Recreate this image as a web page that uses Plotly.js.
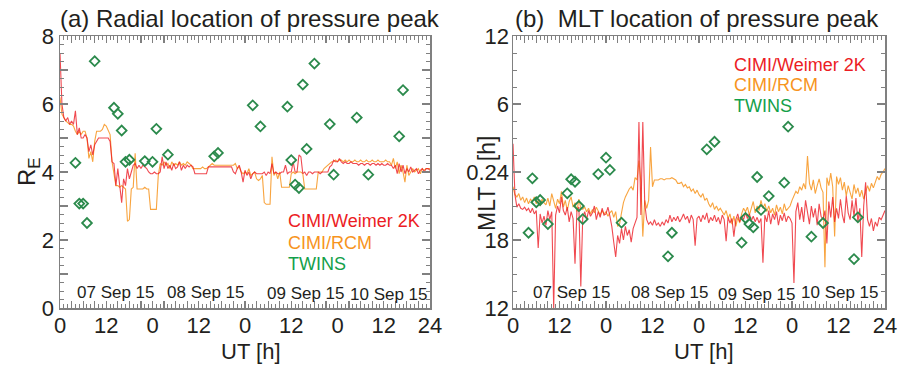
<!DOCTYPE html>
<html>
<head>
<meta charset="utf-8">
<script src="https://cdn.plot.ly/plotly-3.0.1.min.js"></script>
<style>
  html, body { margin: 0; padding: 0; background: #fff; }
  #chart { width: 898px; height: 366px; }
</style>
</head>
<body>
<div id="chart"></div>
<script>
// ---- sampling grid (UT hours since 00 UT 07 Sep 2015, every 0.5 h) ----
const T_START = 0, T_STEP = 0.5, T_COUNT = 193;

// ---- (a) radial location of pressure peak [R_E] ----
const leftWeimer = [
  7.5, 6.0, 5.6, 5.5, 5.6, 5.4, 5.5, 5.4, 5.8, 5.1, 5.3, 5.0, 5.0, 5.1, 5.0, 4.6, 4.8, 4.5, 4.8, 4.9, 5.0, 5.0, 5.0, 5.0,
  5.0, 5.0, 4.9, 4.3, 4.25, 3.6, 4.1, 3.5, 3.1, 3.8, 3.6, 4.1, 3.8, 4.0, 4.2, 4.25, 4.1, 4.2, 4.1, 4.2, 4.15, 4.1, 4.0, 3.95,
  3.95, 4.0, 3.95, 3.95, 4.0, 4.45, 4.1, 4.3, 4.1, 4.2, 4.05, 4.25, 4.1, 4.15, 4.3, 4.05, 4.2, 4.1, 4.2, 4.15, 4.2, 4.15, 3.95, 3.95,
  3.95, 3.95, 3.95, 3.95, 3.95, 4.15, 4.15, 4.15, 4.15, 4.15, 4.15, 4.15, 4.15, 4.15, 4.15, 4.15, 4.15, 4.15, 4.0, 3.95, 4.1, 4.2, 4.0, 3.7,
  4.05, 3.9, 4.0, 3.8, 3.95, 4.0, 3.95, 3.95, 3.95, 3.95, 4.0, 3.9, 4.0, 3.95, 4.25, 3.95, 4.0, 3.95, 3.95, 4.0, 4.0, 4.2, 3.95, 4.0,
  4.0, 4.3, 4.0, 4.0, 4.5, 4.45, 3.95, 4.0, 3.9, 4.0, 4.0, 3.95, 4.0, 4.0, 4.0, 3.95, 4.0, 4.0, 4.0, 4.0, 4.15, 4.2, 4.35, 4.3,
  4.3, 4.4, 4.3, 4.25, 4.3, 4.25, 4.25, 4.3, 4.25, 4.25, 4.25, 4.2, 4.25, 4.25, 4.2, 4.25, 4.25, 4.2, 4.25, 4.25, 4.2, 4.25, 4.2, 4.25,
  4.2, 4.2, 4.25, 4.2, 4.2, 4.1, 4.2, 3.95, 4.25, 4.0, 4.2, 3.95, 4.1, 4.0, 4.15, 4.0, 4.05, 4.1, 3.95, 4.05, 4.1, 4.0, 4.1, 4.1,
  4.05
];
const leftRCM = [
  6.2, 5.7, 5.6, 5.5, 5.45, 5.4, 5.4, 5.35, 5.2, 5.1, 5.2, 5.1, 5.2, 5.2, 5.0, 4.4, 4.6, 4.3, 4.9, 5.2, 5.2, 5.2, 5.25, 5.4,
  5.35, 5.2, 5.1, 4.3, 4.0, 3.6, 3.6, 3.55, 3.6, 3.55, 3.5, 2.55, 2.6, 3.5, 3.55, 4.55, 3.5, 3.5, 3.5, 3.5, 3.55, 3.5, 3.5, 2.9,
  2.9, 2.9, 2.9, 3.9, 4.25, 4.2, 4.3, 4.2, 4.25, 4.1, 4.3, 4.2, 4.25, 4.2, 4.3, 4.2, 4.25, 4.2, 4.3, 4.25, 4.2, 4.1, 4.1, 4.1,
  4.1, 4.1, 4.15, 4.1, 4.1, 4.15, 4.2, 4.25, 4.2, 4.2, 4.2, 4.2, 4.2, 4.2, 4.2, 4.2, 4.2, 4.2, 4.2, 4.25, 4.1, 4.15, 4.0, 3.95,
  4.0, 3.95, 4.1, 3.9, 3.95, 4.0, 3.8, 3.75, 3.8, 3.9, 3.1, 3.05, 3.05, 3.05, 4.45, 3.9, 4.0, 3.8, 4.0, 3.55, 3.55, 3.55, 3.55, 3.55,
  3.95, 4.0, 3.95, 4.0, 4.0, 4.0, 3.95, 3.5, 3.5, 3.5, 3.5, 3.5, 3.5, 3.5, 4.0, 4.0, 4.0, 4.1, 4.15, 4.2, 4.25, 4.3, 4.3, 4.35,
  4.3, 4.35, 4.35, 4.3, 4.35, 4.3, 4.35, 4.3, 4.3, 4.35, 4.3, 4.3, 4.35, 4.3, 4.3, 4.35, 4.3, 4.3, 4.35, 4.3, 4.3, 4.35, 4.3, 4.3,
  4.3, 4.35, 4.3, 4.3, 4.2, 4.4, 4.1, 4.3, 3.95, 4.2, 4.0, 3.7, 4.2, 3.9, 4.0, 4.1, 4.0, 4.05, 4.1, 3.95, 4.1, 4.05, 4.1, 4.1,
  4.1
];

// ---- (b) MLT location of pressure peak [h], unwrapped: 24 = midnight, 30 = 06 MLT ----
const rightWeimer = [
  26.5, 22.0, 20.9, 21.2, 20.8, 20.7, 20.9, 20.6, 20.8, 20.4, 20.8, 20.3, 20.6, 17.3, 20.3, 19.5, 20.1, 19.3, 20.6, 19.8, 20.5, 12.0, 20.2, 21.0,
  20.4, 21.8, 20.6, 20.2, 20.9, 19.6, 20.5, 19.9, 15.9, 20.6, 20.9, 13.9, 20.0, 20.5, 19.8, 20.6, 20.1, 20.4, 21.0, 19.8, 20.5, 20.0, 20.8, 20.2,
  20.3, 20.9, 20.1, 19.2, 17.8, 16.5, 18.4, 17.7, 19.0, 18.0, 19.2, 18.4, 18.9, 17.8, 19.0, 19.5, 20.0, 28.4, 20.2, 28.4, 21.2, 19.8, 19.4, 19.6,
  19.3, 19.8, 19.3, 19.5, 19.2, 19.6, 19.3, 19.8, 19.5, 20.2, 19.6, 20.0, 19.7, 20.1, 19.6, 19.9, 20.3, 19.8, 20.1, 19.5, 20.2, 19.8, 17.5, 19.9,
  20.1, 19.6, 20.2, 19.8, 20.4, 19.5, 20.0, 19.7, 20.2, 19.6, 20.0, 19.4, 20.2, 19.8, 17.9, 20.0, 19.5, 19.9, 18.3, 19.8, 20.3, 19.6, 20.1, 19.8,
  20.4, 19.9, 20.3, 19.7, 20.1, 19.6, 20.0, 19.5, 19.9, 16.0, 20.2, 19.6, 20.6, 19.4, 20.3, 19.8, 20.5, 19.3, 20.2, 19.7, 20.4, 19.6, 20.1, 19.9,
  19.5, 14.2, 20.5, 21.3, 19.8, 20.9, 19.6, 21.5, 20.2, 19.4, 21.0, 20.0, 20.8, 19.3, 21.2, 20.1, 19.8, 20.6, 17.7, 21.4, 20.0, 21.8, 19.6, 20.8,
  19.9, 21.6, 20.2, 19.5, 21.9, 20.4, 19.8, 21.5, 20.1, 21.7, 19.6, 20.8, 16.5, 21.0, 23.1, 19.8, 19.2, 19.9, 18.8, 19.6, 19.2, 20.0, 19.8, 20.3,
  20.6
];
const rightRCM = [
  22.7, 22.0, 21.8, 22.1, 21.5, 21.8, 21.3, 21.7, 21.2, 21.6, 21.4, 21.8, 21.2, 21.5, 21.0, 21.6, 21.3, 21.1, 21.7, 21.0, 22.1, 21.4, 20.8, 21.6,
  21.2, 22.3, 20.9, 21.5, 20.6, 21.4, 21.8, 20.9, 21.3, 20.5, 21.6, 20.8, 20.7, 20.9, 20.5, 20.8, 20.3, 20.7, 20.4, 20.9, 20.6, 20.2, 20.6, 20.3,
  20.5, 20.1, 20.4, 20.6, 20.0, 20.5, 19.2, 19.4, 20.4, 21.3, 21.8, 22.2, 22.5, 22.7, 22.4, 23.5, 23.3, 25.0, 23.1, 18.3, 21.5, 20.8, 21.5, 26.2,
  22.7, 23.3, 23.3, 23.3, 23.4, 23.4, 23.3, 23.4, 23.4, 23.4, 23.5, 23.4, 23.3, 23.0, 23.0, 23.1, 22.7, 22.9, 22.6, 22.7, 22.3, 22.5, 22.1, 22.4,
  22.0, 21.8, 22.1, 21.5, 21.7, 21.2, 20.9, 21.3, 20.7, 21.0, 20.6, 20.8, 20.5, 20.2, 20.6, 19.9, 20.3, 19.4, 20.1, 19.2, 20.0, 19.5, 20.3, 20.8,
  20.5, 20.9, 20.2, 20.7, 21.4, 20.4, 21.0, 20.6, 21.5, 20.8, 21.2, 20.5, 21.0, 20.4, 20.8, 20.2, 21.1, 20.5, 20.9, 20.3, 21.2, 20.6, 20.8, 21.0,
  21.5, 21.9, 22.3, 22.1, 22.7, 22.4, 23.0, 22.5, 25.4, 23.0, 22.4, 23.3, 22.1, 22.8, 23.4, 22.6, 22.2, 15.6, 23.5, 22.8, 23.9, 22.7, 18.3, 23.6,
  22.9, 23.5, 22.4, 23.1, 21.9, 22.8, 22.3, 21.6, 22.9, 22.1, 22.6, 21.8, 22.4, 21.6, 22.2, 22.8, 22.3, 23.0, 22.6, 23.2, 23.6, 23.3, 23.8, 24.0,
  24.3
];

// ---- TWINS observations ----
const twinsHours = [4, 5, 6, 7, 9, 14, 15, 16, 17, 18, 22, 24, 25, 28, 40, 41, 50, 52, 59, 60, 61, 62, 63, 64, 66, 70, 71, 77, 80, 88, 89];
const twinsR = [4.27, 3.07, 3.07, 2.5, 7.26, 5.89, 5.71, 5.22, 4.30, 4.36, 4.32, 4.30, 5.27, 4.51, 4.46, 4.56, 5.96, 5.34, 5.92, 4.35, 3.63, 3.53, 6.57, 4.68, 7.19, 5.41, 3.92, 5.60, 3.92, 5.05, 6.41];
const twinsMLT = [18.64, 23.44, 21.33, 21.53, 19.41, 22.12, 23.36, 23.14, 21.0, 19.85, 23.82, 25.26, 24.18, 19.53, 16.56, 18.64, 26.0, 26.67, 17.76, 19.94, 19.41, 19.12, 23.56, 20.65, 21.88, 23.06, 28.0, 18.29, 19.5, 16.32, 20.0];

// ---- axis ticks / labels ----
const xLabelHours = [0, 12, 24, 36, 48, 60, 72, 84, 96];
const xLabelText = ['0', '12', '0', '12', '0', '12', '0', '12', '24'];
const yLeftVals = [0, 2, 4, 6, 8];
const yLeftText = ['0', '2', '4', '6', '8'];
const yRightVals = [12, 18, 24, 30, 36];
const yRightText = ['12', '18', '0.24', '6', '12'];
const dateLabels = ['07 Sep 15', '08 Sep 15', '09 Sep 15', '10 Sep 15'];
const seriesNames = ['CIMI/Weimer 2K', 'CIMI/RCM', 'TWINS'];

// ---- colours ----
const RED = '#ec1c24', ORANGE = '#f7941d', GREEN_MK = '#2b8a4c', GREEN_TX = '#13a04a';
const FONT = 'Liberation Sans, Arial, Helvetica, sans-serif';

const hours = [];
for (let i = 0; i < T_COUNT; i++) hours.push(T_START + i * T_STEP);

// x ticks every 3 h, label only at 12 h marks
const xTickVals = [], xTickText = [];
for (let h = 0; h <= 96; h += 3) {
  xTickVals.push(h);
  const k = xLabelHours.indexOf(h);
  xTickText.push(k >= 0 ? xLabelText[k] : '');
}
const yLTickVals = [], yLTickText = [];
for (let v = 0; v <= 8; v += 1) {
  yLTickVals.push(v);
  const k = yLeftVals.indexOf(v);
  yLTickText.push(k >= 0 ? yLeftText[k] : '');
}

const frame = {
  showline: true, linecolor: '#808080', linewidth: 1.5, mirror: 'ticks',
  ticks: 'inside', tickcolor: '#808080', tickwidth: 1.2,
  showgrid: false, zeroline: false, fixedrange: true, tickangle: 0,
  tickfont: { family: FONT, size: 22, color: '#231f20' }
};

const mk = { symbol: 'diamond-open', size: 7.5, color: GREEN_MK, line: { width: 1.8, color: GREEN_MK } };

const traces = [
  { x: hours, y: leftRCM, type: 'scatter', mode: 'lines', name: seriesNames[1], line: { color: ORANGE, width: 1.1 }, opacity: 0.85, xaxis: 'x', yaxis: 'y' },
  { x: hours, y: leftWeimer, type: 'scatter', mode: 'lines', name: seriesNames[0], line: { color: RED, width: 1.1 }, opacity: 0.8, xaxis: 'x', yaxis: 'y' },
  { x: twinsHours, y: twinsR, type: 'scatter', mode: 'markers', name: seriesNames[2], marker: mk, xaxis: 'x', yaxis: 'y' },
  { x: hours, y: rightRCM, type: 'scatter', mode: 'lines', name: seriesNames[1], line: { color: ORANGE, width: 1.1 }, opacity: 0.85, xaxis: 'x2', yaxis: 'y2' },
  { x: hours, y: rightWeimer, type: 'scatter', mode: 'lines', name: seriesNames[0], line: { color: RED, width: 1.1 }, opacity: 0.8, xaxis: 'x2', yaxis: 'y2' },
  { x: twinsHours, y: twinsMLT, type: 'scatter', mode: 'markers', name: seriesNames[2], marker: mk, xaxis: 'x2', yaxis: 'y2' }
];

const W = 898;
const px = v => v / W;              // paper x from pixel
const py = v => (308 - v) / 272;    // paper y from pixel (plot area 36..308)

function ann(text, x, y, size, color, opts) {
  return Object.assign({ text: text, x: x, y: y, xref: 'paper', yref: 'paper', showarrow: false,
    font: { family: FONT, size: size, color: color }, xanchor: 'center', yanchor: 'middle' }, opts || {});
}

const annotations = [
  ann('(a) Radial location of pressure peak', px(58), py(18), 24, '#231f20', { xanchor: 'left' }),
  ann('(b)\u00a0 MLT location of pressure peak', px(513), py(18), 24, '#231f20', { xanchor: 'left' }),
  ann('UT [h]', px(251), py(351), 22, '#231f20'),
  ann('UT [h]', px(704), py(351), 22, '#231f20'),
  ann('R<sub>E</sub>', px(28), py(172), 24, '#231f20', { textangle: -90 }),
  ann('MLT\u00a0\u00a0\u00a0\u00a0[h]', px(487), py(184), 23, '#231f20', { textangle: -90 }),
  ann(seriesNames[0], px(286), py(221), 18, RED, { xanchor: 'left' }),
  ann(seriesNames[1], px(286), py(243), 18, ORANGE, { xanchor: 'left' }),
  ann(seriesNames[2], px(286), py(264), 18, GREEN_TX, { xanchor: 'left' }),
  ann(seriesNames[0], px(732), py(65), 18, RED, { xanchor: 'left' }),
  ann(seriesNames[1], px(732), py(85), 18, ORANGE, { xanchor: 'left' }),
  ann(seriesNames[2], px(732), py(106), 18, GREEN_TX, { xanchor: 'left' }),
  ann(dateLabels[0], px(116), py(292), 17, '#231f20'),
  ann(dateLabels[1], px(206), py(292), 17, '#231f20'),
  ann(dateLabels[2], px(306), py(293), 17, '#231f20'),
  ann(dateLabels[3], px(389), py(294), 17, '#231f20'),
  ann(dateLabels[0], px(572), py(292), 17, '#231f20'),
  ann(dateLabels[1], px(670), py(292), 17, '#231f20'),
  ann(dateLabels[2], px(757), py(294), 17, '#231f20'),
  ann(dateLabels[3], px(840), py(292), 17, '#231f20')
];

const xCommon = Object.assign({}, frame, {
  range: [0, 96], tickmode: 'array', tickvals: xTickVals, ticktext: xTickText, ticklen: 7,
  ticklabelstandoff: -3,
  minor: { tickmode: 'linear', tick0: 0, dtick: 1, ticklen: 4, ticks: 'inside', tickcolor: '#808080', tickwidth: 1 }
});

const layout = {
  width: 898, height: 366,
  margin: { l: 0, r: 0, t: 36, b: 58, pad: 0 },
  paper_bgcolor: '#ffffff', plot_bgcolor: '#ffffff',
  showlegend: false,
  xaxis: Object.assign({}, xCommon, { domain: [px(60), px(430)], anchor: 'y' }),
  xaxis2: Object.assign({}, xCommon, { domain: [px(513), px(885)], anchor: 'y2' }),
  yaxis: Object.assign({}, frame, {
    domain: [0, 1], anchor: 'x', range: [0, 8], tickmode: 'array', tickvals: yLTickVals, ticktext: yLTickText, ticklen: 8,
    minor: { tickmode: 'linear', tick0: 0, dtick: 0.25, ticklen: 4, ticks: 'inside', tickcolor: '#808080', tickwidth: 1 }
  }),
  yaxis2: Object.assign({}, frame, {
    domain: [0, 1], anchor: 'x2', range: [12, 36], tickmode: 'array', tickvals: yRightVals, ticktext: yRightText, ticklen: 8,
    ticklabelstandoff: -2,
    minor: { tickmode: 'linear', tick0: 12, dtick: 1.5, ticklen: 4, ticks: 'inside', tickcolor: '#808080', tickwidth: 1 }
  }),
  annotations: annotations
};

Plotly.newPlot('chart', traces, layout, { staticPlot: true, displayModeBar: false });
</script>
</body>
</html>
